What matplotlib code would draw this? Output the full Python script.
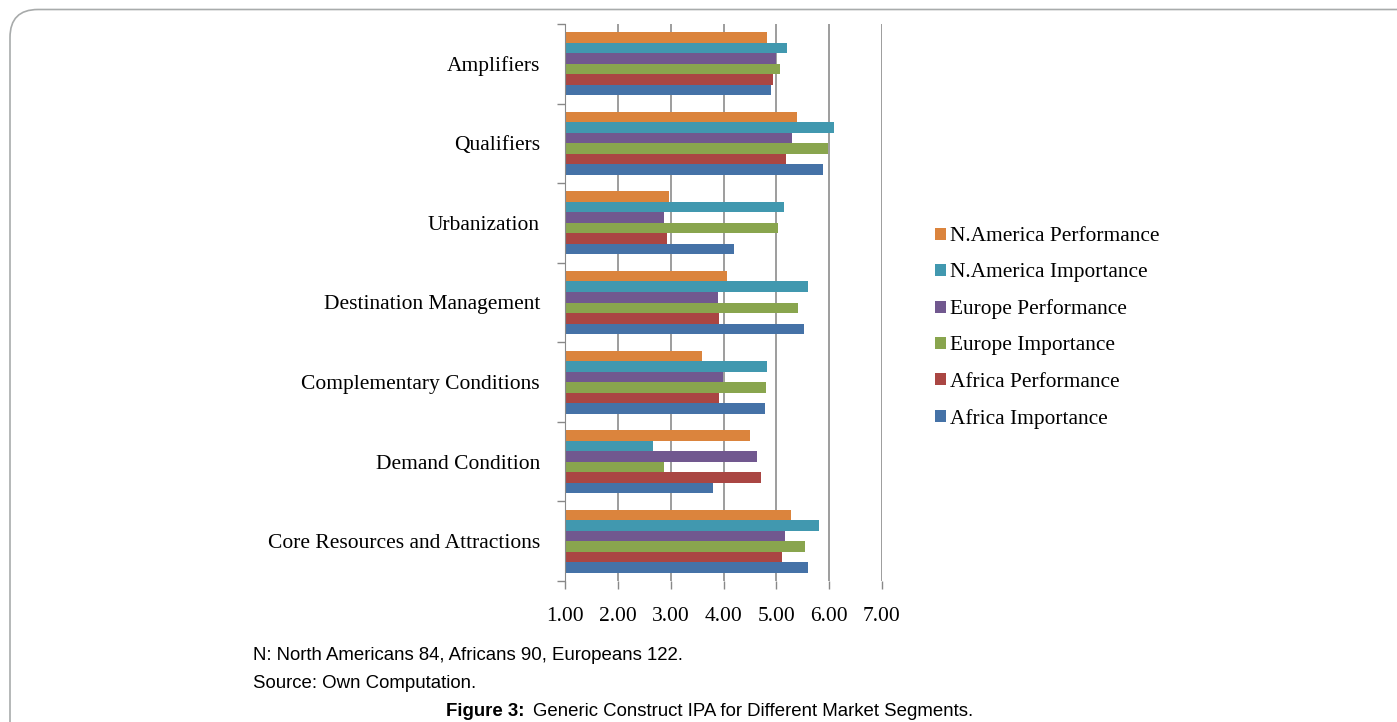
import matplotlib
matplotlib.use("Agg")
import matplotlib.pyplot as plt
from matplotlib.patches import FancyBboxPatch
import numpy as np

categories = ["Core Resources and Attractions", "Demand Condition", "Complementary Conditions",
              "Destination Management", "Urbanization", "Qualifiers", "Amplifiers"]
series_names = ["Africa Importance", "Africa Performance", "Europe Importance",
                "Europe Performance", "N.America Importance", "N.America Performance"]
africa_importance = [5.60, 3.81, 4.79, 5.53, 4.20, 5.88, 4.90]
africa_performance = [5.10, 4.71, 3.92, 3.91, 2.93, 5.19, 4.93]
europe_importance = [5.55, 2.87, 4.81, 5.41, 5.04, 5.98, 5.06]
europe_performance = [5.17, 4.63, 3.99, 3.89, 2.87, 5.29, 5.00]
namerica_importance = [5.80, 2.66, 4.82, 5.60, 5.14, 6.09, 5.21]
namerica_performance = [5.27, 4.51, 3.60, 4.06, 2.97, 5.39, 4.82]
x_ticks = [1.00, 2.00, 3.00, 4.00, 5.00, 6.00, 7.00]
x_tick_labels = ["1.00", "2.00", "3.00", "4.00", "5.00", "6.00", "7.00"]

series = [africa_importance, africa_performance, europe_importance,
          europe_performance, namerica_importance, namerica_performance]
colors = ["#4572A7", "#AA4643", "#89A54E", "#71588F", "#4198AF", "#DB843D"]

serif = ["Liberation Serif", "DejaVu Serif"]
sans = ["Liberation Sans", "DejaVu Sans"]

W, H = 1397, 722
fig = plt.figure(figsize=(W / 100, H / 100), dpi=100)

# rounded border
border = FancyBboxPatch((10 / W, -0.05), 1.5, 1.05 - 9.5 / H,
                        boxstyle="round,pad=0,rounding_size=0.02",
                        transform=fig.transFigure, facecolor="none",
                        edgecolor="#A8ABAB", linewidth=1.2, mutation_aspect=W / H)
fig.patches.append(border)

ax_l, ax_r, ax_t, ax_b = 565, 882, 24, 581
ax = fig.add_axes([ax_l / W, 1 - ax_b / H, (ax_r - ax_l) / W, (ax_b - ax_t) / H])

n = len(series)
bar_h = 0.132
y = np.arange(len(categories))
for i, (vals, c, name) in enumerate(zip(series, colors, series_names)):
    offset = (i - (n - 1) / 2) * bar_h
    ax.barh(y + offset, np.array(vals) - 1.0, left=1.0, height=bar_h, color=c,
            label=name, zorder=3)

ax.set_xlim(1, 7)
ax.set_ylim(-0.5, len(categories) - 0.5)
ax.set_xticks(x_ticks)
ax.set_xticklabels(x_tick_labels, fontsize=15.5, family=serif)
ax.set_yticks(y)
ax.set_yticklabels(categories, fontsize=15.5, family=serif)
ax.tick_params(axis="y", length=0, pad=18)
ax.set_yticks(np.arange(len(categories) + 1) - 0.5, minor=True)
ax.tick_params(axis="y", which="minor", length=6, color="#888888", width=1)
ax.tick_params(axis="x", length=6, color="#888888", width=1, pad=13)
ax.grid(axis="x", color="#8C8C8C", linewidth=1.2, zorder=0)
for s in ["top", "right", "bottom"]:
    ax.spines[s].set_visible(False)
ax.spines["left"].set_color("#888888")
ax.spines["left"].set_zorder(4)

handles, labels = ax.get_legend_handles_labels()
leg = fig.legend(handles[::-1], labels[::-1], loc="upper left",
                 bbox_to_anchor=(916 / W, 1 - 208 / H), frameon=False,
                 prop={"family": serif, "size": 15.4}, handlelength=0.5,
                 handleheight=0.5, handletextpad=0.2, labelspacing=0.8)

fig.text(253 / W, 1 - 656 / H, "N: North Americans 84, Africans 90, Europeans 122.",
         family=sans, fontsize=13.4, va="center")
fig.text(253 / W, 1 - 684 / H, "Source: Own Computation.",
         family=sans, fontsize=13.4, va="center")
fig.text(525 / W, 1 - 712 / H, "Figure 3:", family=sans, fontsize=13.4,
         fontweight="bold", va="center", ha="right")
fig.text(533 / W, 1 - 712 / H, "Generic Construct IPA for Different Market Segments.",
         family=sans, fontsize=13.4, va="center")

fig.savefig("out.png", dpi=100)
